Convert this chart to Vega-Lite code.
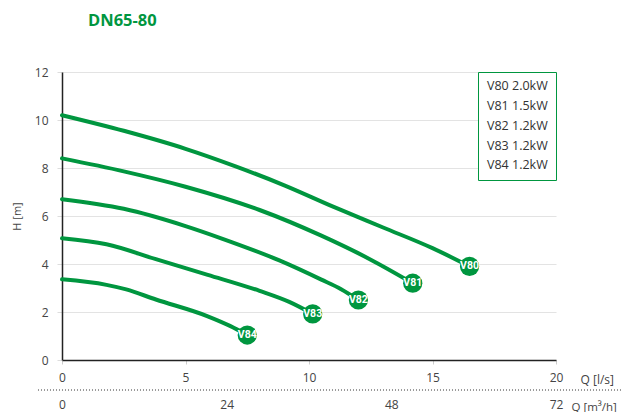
{
  "$schema": "https://vega.github.io/schema/vega-lite/v6.json",
  "width": 494,
  "height": 288,
  "autosize": {"type": "none"},
  "padding": {"left": 62, "top": 72, "right": 66, "bottom": 52},
  "background": "white",
  "title": {"text": "DN65-80", "anchor": "start", "frame": "group", "dx": 26, "offset": 37, "fontSize": 16.5, "font": "Open Sans", "fontWeight": "bold", "color": "#00963f"},
  "config": {"view": {"stroke": null}, "font": "Open Sans"},
  "datasets": {
    "curves": [
      {"pump": "V80", "name": "V80 2.0kW", "q": 0, "h": 10.2},
      {"pump": "V80", "name": "V80 2.0kW", "q": 2.5, "h": 9.55},
      {"pump": "V80", "name": "V80 2.0kW", "q": 5, "h": 8.8},
      {"pump": "V80", "name": "V80 2.0kW", "q": 7, "h": 8.08},
      {"pump": "V80", "name": "V80 2.0kW", "q": 9, "h": 7.28},
      {"pump": "V80", "name": "V80 2.0kW", "q": 11, "h": 6.38},
      {"pump": "V80", "name": "V80 2.0kW", "q": 13, "h": 5.52},
      {"pump": "V80", "name": "V80 2.0kW", "q": 15, "h": 4.66},
      {"pump": "V80", "name": "V80 2.0kW", "q": 16.5, "h": 3.9},
      {"pump": "V81", "name": "V81 1.5kW", "q": 0, "h": 8.4},
      {"pump": "V81", "name": "V81 1.5kW", "q": 2.5, "h": 7.86},
      {"pump": "V81", "name": "V81 1.5kW", "q": 5, "h": 7.22},
      {"pump": "V81", "name": "V81 1.5kW", "q": 8, "h": 6.25},
      {"pump": "V81", "name": "V81 1.5kW", "q": 10.5, "h": 5.18},
      {"pump": "V81", "name": "V81 1.5kW", "q": 12.5, "h": 4.18},
      {"pump": "V81", "name": "V81 1.5kW", "q": 14.2, "h": 3.2},
      {"pump": "V82", "name": "V82 1.2kW", "q": 0, "h": 6.7},
      {"pump": "V82", "name": "V82 1.2kW", "q": 2.5, "h": 6.3},
      {"pump": "V82", "name": "V82 1.2kW", "q": 5, "h": 5.58},
      {"pump": "V82", "name": "V82 1.2kW", "q": 6.5, "h": 5.05},
      {"pump": "V82", "name": "V82 1.2kW", "q": 8.8, "h": 4.15},
      {"pump": "V82", "name": "V82 1.2kW", "q": 10.5, "h": 3.35},
      {"pump": "V82", "name": "V82 1.2kW", "q": 11.3, "h": 2.95},
      {"pump": "V82", "name": "V82 1.2kW", "q": 12, "h": 2.5},
      {"pump": "V83", "name": "V83 1.2kW", "q": 0, "h": 5.07},
      {"pump": "V83", "name": "V83 1.2kW", "q": 1.8, "h": 4.82},
      {"pump": "V83", "name": "V83 1.2kW", "q": 3.8, "h": 4.2},
      {"pump": "V83", "name": "V83 1.2kW", "q": 5.9, "h": 3.55},
      {"pump": "V83", "name": "V83 1.2kW", "q": 8, "h": 2.88},
      {"pump": "V83", "name": "V83 1.2kW", "q": 9.2, "h": 2.42},
      {"pump": "V83", "name": "V83 1.2kW", "q": 10.15, "h": 1.92},
      {"pump": "V84", "name": "V84 1.2kW", "q": 0, "h": 3.36},
      {"pump": "V84", "name": "V84 1.2kW", "q": 1.8, "h": 3.13},
      {"pump": "V84", "name": "V84 1.2kW", "q": 2.6, "h": 2.94},
      {"pump": "V84", "name": "V84 1.2kW", "q": 3.8, "h": 2.52},
      {"pump": "V84", "name": "V84 1.2kW", "q": 5.9, "h": 1.82},
      {"pump": "V84", "name": "V84 1.2kW", "q": 6.8, "h": 1.42},
      {"pump": "V84", "name": "V84 1.2kW", "q": 7.5, "h": 1.04}
    ],
    "ends": [
      {"pump": "V80", "q": 16.5, "h": 3.9},
      {"pump": "V81", "q": 14.2, "h": 3.2},
      {"pump": "V82", "q": 12, "h": 2.5},
      {"pump": "V83", "q": 10.15, "h": 1.92},
      {"pump": "V84", "q": 7.5, "h": 1.04}
    ]
  },
  "layer": [
    {
      "layer": [
        {
          "data": {"name": "curves"},
          "mark": {"type": "line", "interpolate": "monotone", "strokeWidth": 4, "strokeCap": "round"},
          "encoding": {
            "x": {"field": "q", "type": "quantitative", "scale": {"domain": [0, 20], "nice": false, "zero": false},
              "axis": {"orient": "bottom", "values": [0, 5, 10, 15, 20], "title": "Q [l/s]", "grid": false, "labelFlush": false,
                "domainColor": "#222", "domainWidth": 1.5, "tickColor": "#cccccc", "tickSize": 4,
                "labelPadding": 8, "labelFontSize": 12, "labelColor": "#444", "labelFont": "Open Sans",
                "titleX": 518, "titleY": 23, "titleAlign": "left", "titleBaseline": "alphabetic",
                "titleFontSize": 12, "titleFontWeight": "normal", "titleColor": "#444", "titleFont": "Open Sans"}},
            "y": {"field": "h", "type": "quantitative", "scale": {"domain": [0, 12], "nice": false},
              "axis": {"values": [0, 2, 4, 6, 8, 10, 12], "title": "H [m]", "grid": true, "gridColor": "#e3e3e3",
                "domainColor": "#222", "domainWidth": 1.5, "tickColor": "#dddddd", "tickSize": 5,
                "labelPadding": 9, "labelFontSize": 12, "labelColor": "#444", "labelFont": "Open Sans",
                "titleFontSize": 11, "titleFontWeight": "normal", "titleColor": "#444", "titlePadding": 12, "titleFont": "Open Sans"}},
            "detail": {"field": "pump"},
            "color": {"field": "name", "type": "nominal",
              "scale": {"range": ["#00963f", "#00963f", "#00963f", "#00963f", "#00963f"]},
              "legend": {"title": null, "orient": "top-right", "offset": 0, "padding": 8,
                "strokeColor": "#00963f", "fillColor": "white", "symbolType": "circle",
                "symbolSize": 0.01, "symbolOpacity": 0, "symbolStrokeWidth": 0.01, "labelOffset": -11.5,
                "labelFontSize": 12.5, "labelColor": "#333", "labelFont": "Open Sans", "rowPadding": 6.8}}
          }
        },
        {
          "data": {"name": "ends"},
          "mark": {"type": "circle", "size": 370, "opacity": 1, "color": "#00963f"},
          "encoding": {
            "x": {"field": "q", "type": "quantitative"},
            "y": {"field": "h", "type": "quantitative"}
          }
        },
        {
          "data": {"name": "ends"},
          "mark": {"type": "text", "color": "white", "fontWeight": "bold", "fontSize": 10.5, "font": "Roboto", "baseline": "middle", "align": "center"},
          "encoding": {
            "x": {"field": "q", "type": "quantitative"},
            "y": {"field": "h", "type": "quantitative"},
            "text": {"field": "pump"}
          }
        }
      ]
    },
    {
      "data": {"values": [{}]},
      "mark": {"type": "rule", "strokeDash": [1, 2], "color": "#333", "strokeWidth": 1},
      "encoding": {
        "x": {"datum": -3.5, "type": "quantitative", "scale": {"domain": [0, 72], "nice": false, "zero": false},
          "axis": {"orient": "bottom", "offset": 30, "values": [0, 24, 48, 72], "title": "Q [m³/h]", "grid": false, "labelFlush": false,
            "domain": false, "ticks": false, "labelPadding": 9, "labelFontSize": 12, "labelColor": "#444", "labelFont": "Open Sans",
            "titleX": 509, "titleY": 20, "titleAlign": "left", "titleBaseline": "alphabetic",
            "titleFontSize": 11.5, "titleFontWeight": "normal", "titleColor": "#444", "titleFont": "Open Sans"}},
        "x2": {"datum": 81.6},
        "y": {"datum": -1.25, "type": "quantitative", "scale": {"domain": [0, 12], "nice": false}}
      }
    }
  ],
  "resolve": {"scale": {"x": "independent"}}
}
